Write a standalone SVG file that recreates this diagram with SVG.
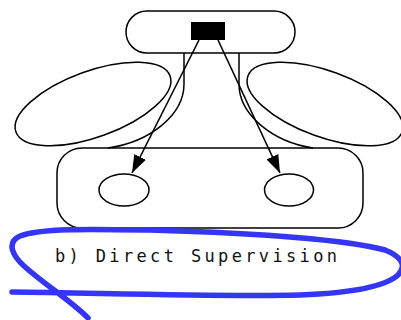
<svg xmlns="http://www.w3.org/2000/svg" width="401" height="320" viewBox="0 0 401 320">
  <style>
    .outline { fill: #fff; stroke: #000; stroke-width: 1.5; }
    .line { fill: none; stroke: #000; stroke-width: 1.5; }
    .arrow { fill: none; stroke: #000; stroke-width: 1.6; marker-end: url(#head); }
    .label { font-family: "DejaVu Sans Mono", "Liberation Mono", monospace; font-size: 17px; fill: #111; }
    .scribble { fill: none; stroke: #3535f5; stroke-width: 5.5; stroke-linecap: round; stroke-linejoin: round; }
  </style>
  <defs>
    <marker id="head" markerUnits="userSpaceOnUse" markerWidth="18" markerHeight="13" refX="18" refY="6.5" orient="auto">
      <path d="M0,0 L18,6.5 L0,13 Z" fill="#000"/>
    </marker>
  </defs>

  <rect width="401" height="320" fill="#fff"/>

  <!-- support staff (left) -->
  <g id="support-left">
    <ellipse class="outline" cx="93" cy="104" rx="82" ry="33" transform="rotate(-20 93 104)"/>
  </g>

  <!-- technostructure (right) -->
  <g id="support-right">
    <ellipse class="outline" cx="325" cy="104" rx="82" ry="33" transform="rotate(20 325 104)"/>
  </g>

  <!-- operating core -->
  <g id="operating-core">
    <rect class="outline" x="57" y="148" width="306" height="80" rx="25" ry="25"/>
    <ellipse class="outline" cx="124" cy="190" rx="25" ry="16"/>
    <ellipse class="outline" cx="289" cy="190" rx="24.5" ry="16"/>
  </g>

  <!-- middle line joining apex to core -->
  <g id="middle-line">
    <path class="line" d="M184,53 V84 C184,115 150,142 108,148"/>
    <path class="line" d="M239,53 V84 C239,115 273,142 313,148"/>
  </g>

  <!-- strategic apex -->
  <g id="strategic-apex">
    <rect class="outline" x="126" y="11" width="169" height="42" rx="21" ry="21"/>
    <rect x="191" y="22" width="34" height="18" fill="#000"/>
  </g>

  <!-- supervision arrows -->
  <g id="connectors">
    <line class="arrow" x1="199" y1="40" x2="132" y2="173"/>
    <line class="arrow" x1="218" y1="40" x2="280" y2="173"/>
  </g>

  <g id="caption">
    <text class="label" x="55" y="262" textLength="282" lengthAdjust="spacing">b) Direct Supervision</text>
  </g>

  <!-- hand-drawn loop round the caption -->
  <path class="scribble" d="M12,292 C100,293 220,297 300,295 C350,293 385,287 398,275 C408,265 400,256 385,250 C340,238 250,233 150,230 C90,229 40,228 20,236 C5,243 14,257 24,266 C45,285 70,300 88,318"/>
</svg>
